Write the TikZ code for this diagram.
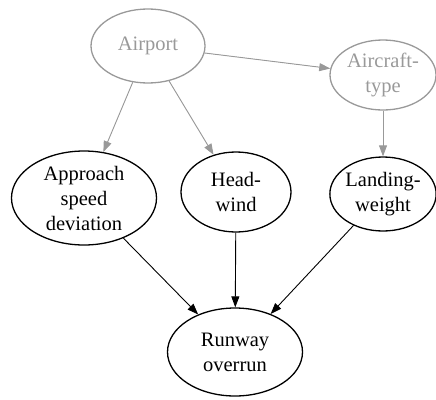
\documentclass[tikz,border=0pt]{standalone}
\usepackage{fontspec}
\setmainfont{Liberation Serif}
\usetikzlibrary{shapes.geometric,arrows.meta}
\definecolor{lgray}{HTML}{999999}
\begin{document}
\begin{tikzpicture}[x=1pt,y=-1pt,
  ell/.style={ellipse,draw,line width=1.3pt,inner sep=0pt,align=center,font=\fontsize{20.5}{25}\selectfont},
  grayell/.style={ell,draw=lgray,text=lgray},
  edge/.style={line width=0.9pt,-{Triangle[length=11pt,width=8pt]}},
  grayedge/.style={edge,draw=lgray,fill=lgray}]
\useasboundingbox (0,0) rectangle (436,399);
\node[grayell,minimum width=114pt,minimum height=74pt] (airport) at (148,46) {Airport};
\node[grayell,minimum width=106pt,minimum height=70pt] (aircraft) at (383,75) {Aircraft-\\type};
\node[ell,minimum width=145pt,minimum height=94pt] (approach) at (84,198) {Approach\\speed\\deviation};
\node[ell,minimum width=110pt,minimum height=80pt] (headwind) at (236,192) {Head-\\wind};
\node[ell,minimum width=104pt,minimum height=74pt] (landing) at (383,194) {Landing-\\weight};
\node[ell,minimum width=135pt,minimum height=88pt] (runway) at (235,352) {Runway\\overrun};
\draw[grayedge] (airport) -- (approach);
\draw[grayedge] (airport) -- (headwind);
\draw[grayedge] (airport) -- (aircraft);
\draw[grayedge] (aircraft) -- (landing);
\draw[edge] (approach) -- (runway);
\draw[edge] (headwind) -- (runway);
\draw[edge] (landing) -- (runway);
\end{tikzpicture}
\end{document}
